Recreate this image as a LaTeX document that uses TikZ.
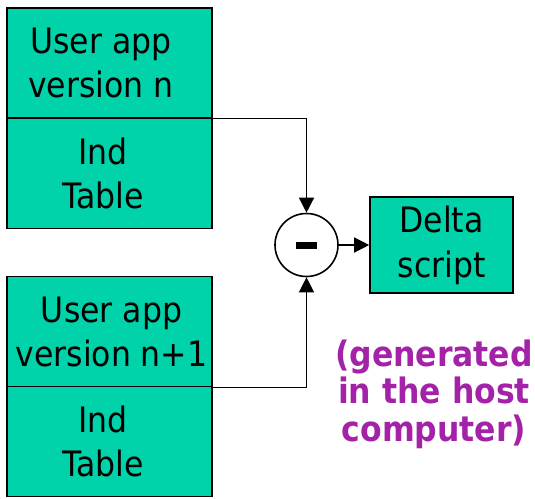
\documentclass[tikz,border=0pt]{standalone}
\usepackage{fontspec}
\setmainfont{DejaVu Sans Condensed}
\usetikzlibrary{arrows.meta}
\definecolor{boxfill}{HTML}{00D2AA}
\definecolor{notecol}{HTML}{A322A8}
\begin{document}
\begin{tikzpicture}[x=1pt,y=-1pt,
  cell/.style={draw=black,line width=1.6pt,fill=boxfill,minimum width=205pt,
    minimum height=110pt,inner sep=0pt},
  celltext/.style={inner sep=0pt,align=center,
    font=\fontsize{35}{44}\selectfont},
  deltabox/.style={draw=black,line width=1.6pt,fill=boxfill,minimum width=143pt,
    minimum height=96pt,inner sep=0pt,align=center,
    font=\fontsize{35}{45}\selectfont},
  opcircle/.style={draw=black,line width=1.6pt,fill=white,circle,
    minimum size=63pt,inner sep=0pt},
  link/.style={line width=1.3pt,-{Triangle[length=15pt,width=15pt]}},
  note/.style={text=notecol,align=center,
    font=\fontsize{35}{37.5}\selectfont\bfseries}]
\useasboundingbox (0,0) rectangle (535,498);
% version n
\node[cell] (appA) at (109.5,63) {};
\node[cell] (tabA) at (109.5,173.5) {};
\node[celltext] (appAtxt) at (101,63) {User app\\version n};
\node[celltext] (tabAtxt) at (103,173.5) {Ind\\Table};
% version n+1
\node[cell] (appB) at (109.5,331.5) {};
\node[cell] (tabB) at (109.5,441.5) {};
\node[celltext] (appBtxt) at (111.5,331.5) {User app\\version n+1};
\node[celltext] (tabBtxt) at (103,441.5) {Ind\\Table};
% difference operator
\node[opcircle] (minus) at (306.5,245) {};
\fill (minus.center) ++(-10.5,-3.5) rectangle ++(21,7);
% result
\node[deltabox] (delta) at (441.5,245) {Delta\\script};
\node[note] (gen) at (434,394) {(generated\\in the host\\computer)};
% connectors
\draw[link] (appA.south east) -| (minus.north);
\draw[link] (appB.south east) -| (minus.south);
\draw[link] (minus.east) -- (delta.west);
\end{tikzpicture}
\end{document}
